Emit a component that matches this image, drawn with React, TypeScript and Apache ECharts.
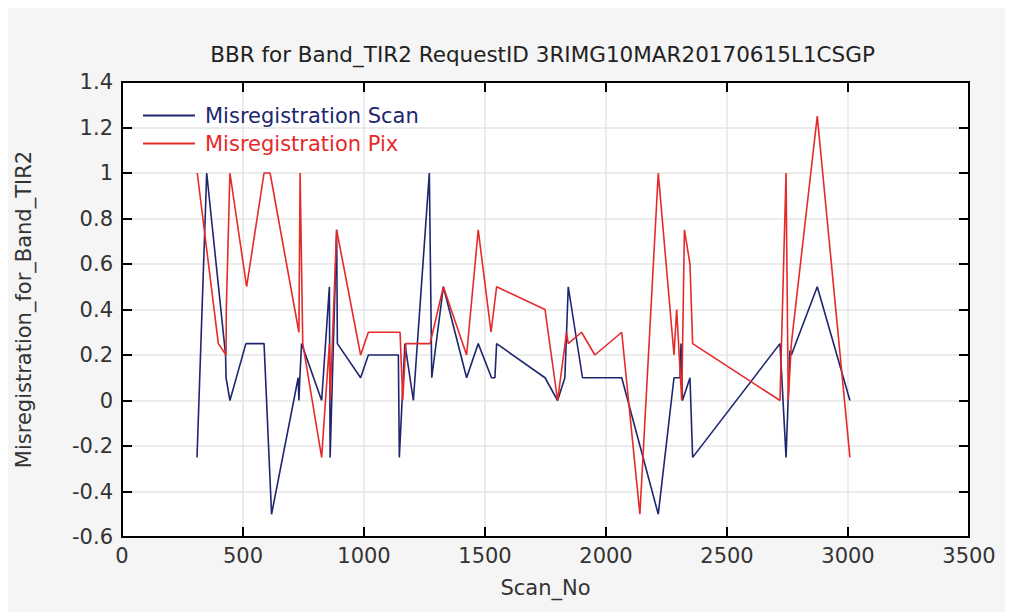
import React, { useEffect, useRef } from "react";
import * as echarts from "echarts";

const titleText = "BBR for Band_TIR2 RequestID 3RIMG10MAR20170615L1CSGP";
const xName = "Scan_No";
const yName = "Misregistration_for_Band_TIR2";
const scanName = "Misregistration Scan";
const pixName = "Misregistration Pix";

const scanX = [310, 350, 428, 430, 446, 512, 587, 618, 728, 731, 735, 742, 825, 857, 860, 887, 890, 986, 1018, 1142, 1146, 1169, 1204, 1270, 1280, 1328, 1424, 1472, 1527, 1541, 1548, 1748, 1800, 1830, 1844, 1903, 2065, 2216, 2281, 2306, 2310, 2316, 2347, 2358, 2719, 2744, 2760, 2766, 2873, 3008];
const scanY = [-0.25, 1.0, 0.2, 0.1, 0, 0.25, 0.25, -0.5, 0.1, 0, 0.1, 0.25, 0, 0.5, -0.25, 0.75, 0.25, 0.1, 0.2, 0.2, -0.25, 0.25, 0, 1.0, 0.1, 0.5, 0.1, 0.25, 0.1, 0.1, 0.25, 0.1, 0, 0.1, 0.5, 0.1, 0.1, -0.5, 0.1, 0.1, 0.25, 0, 0.1, -0.25, 0.25, -0.25, 0.22, 0.2, 0.5, 0];

const pixX = [311, 398, 430, 431, 446, 515, 587, 612, 731, 736, 747, 825, 857, 860, 887, 986, 1018, 1149, 1160, 1173, 1273, 1328, 1424, 1472, 1525, 1548, 1748, 1800, 1837, 1844, 1899, 1954, 2065, 2140, 2216, 2281, 2292, 2313, 2324, 2347, 2358, 2719, 2744, 2753, 2766, 2873, 3008];
const pixY = [1.0, 0.25, 0.2, 0.4, 1.0, 0.5, 1.0, 1.0, 0.3, 1.0, 0.25, -0.25, 0.25, 0, 0.75, 0.2, 0.3, 0.3, 0, 0.25, 0.25, 0.5, 0.2, 0.75, 0.3, 0.5, 0.4, 0, 0.3, 0.25, 0.3, 0.2, 0.3, -0.5, 1.0, 0.2, 0.4, 0, 0.75, 0.6, 0.25, 0, 1.0, 0, 0.25, 1.25, -0.25];

const X_MIN = 0, X_MAX = 3500, X_STEP = 500;
const Y_MIN = -0.6, Y_MAX = 1.4, Y_STEP = 0.2;

const scanColor = "#1e2670";
const pixColor = "#e52a2a";
const FONT = "DejaVu Sans";

export default function App() {
  const ref = useRef<HTMLDivElement>(null);
  useEffect(() => {
    if (!ref.current) return;
    const chart = echarts.init(ref.current, null, { renderer: "svg" });
    const tickCommon = {
      show: true,
      inside: true,
      length: 10,
      lineStyle: { color: "#000", width: 2 },
    };
    const axisLine = { show: true, onZero: false, lineStyle: { color: "#000", width: 2 } };
    const labelStyle = { fontFamily: FONT, fontSize: 21, color: "#333" };
    const fmt = (v: number) => String(Math.round(v * 1000) / 1000);
    chart.setOption({
      animation: false,
      backgroundColor: "#f5f5f5",
      title: {
        text: titleText,
        left: 529.5,
        textAlign: "center",
        top: 30,
        textStyle: { fontFamily: FONT, fontSize: 21.5, fontWeight: "normal", color: "#222" },
      },
      legend: {
        orient: "vertical",
        left: 130,
        top: 92,
        icon: "rect",
        itemWidth: 52,
        itemHeight: 2,
        itemGap: 7,
        textStyle: { fontFamily: FONT, fontSize: 21, lineHeight: 21, padding: [0, 0, 0, 5] },
        data: [
          { name: scanName, textStyle: { color: scanColor } },
          { name: pixName, textStyle: { color: pixColor } },
        ],
      },
      grid: {
        left: 114,
        top: 74,
        right: 44,
        bottom: 75,
        outerBoundsMode: "none",
        containLabel: false,
        show: true,
        backgroundColor: "#ffffff",
        borderColor: "#000",
        borderWidth: 2,
      },
      xAxis: [
        {
          type: "value",
          min: X_MIN,
          max: X_MAX,
          interval: X_STEP,
          position: "bottom",
          axisLine,
          axisTick: tickCommon,
          axisLabel: { ...labelStyle, margin: 8, formatter: fmt },
          splitLine: { show: true, lineStyle: { color: "#e6e6e6", width: 1.5 } },
          name: xName,
          nameLocation: "middle",
          nameGap: 40,
          nameTextStyle: { ...labelStyle },
        },
        {
          type: "value",
          min: X_MIN,
          max: X_MAX,
          interval: X_STEP,
          position: "top",
          axisLine,
          axisTick: tickCommon,
          axisLabel: { show: false },
          splitLine: { show: false },
        },
      ],
      yAxis: [
        {
          type: "value",
          min: Y_MIN,
          max: Y_MAX,
          interval: Y_STEP,
          position: "left",
          axisLine,
          axisTick: tickCommon,
          axisLabel: { ...labelStyle, margin: 9, formatter: fmt },
          splitLine: { show: true, lineStyle: { color: "#e6e6e6", width: 1.5 } },
          name: yName,
          nameLocation: "middle",
          nameGap: 88,
          nameRotate: 90,
          nameTextStyle: { ...labelStyle },
        },
        {
          type: "value",
          min: Y_MIN,
          max: Y_MAX,
          interval: Y_STEP,
          position: "right",
          axisLine,
          axisTick: tickCommon,
          axisLabel: { show: false },
          splitLine: { show: false },
        },
      ],
      series: [
        {
          name: scanName,
          type: "line",
          xAxisIndex: 0,
          yAxisIndex: 0,
          symbol: "none",
          showSymbol: false,
          color: scanColor,
          lineStyle: { color: scanColor, width: 1.6 },
          data: scanX.map((x, i) => [x, scanY[i]]),
        },
        {
          name: pixName,
          type: "line",
          xAxisIndex: 0,
          yAxisIndex: 0,
          symbol: "none",
          showSymbol: false,
          color: pixColor,
          lineStyle: { color: pixColor, width: 1.6 },
          data: pixX.map((x, i) => [x, pixY[i]]),
        },
      ],
    });
    return () => chart.dispose();
  }, []);
  return (
    <div
      ref={ref}
      style={{ width: 1005, height: 604, background: "#f5f5f5" }}
    />
  );
}
